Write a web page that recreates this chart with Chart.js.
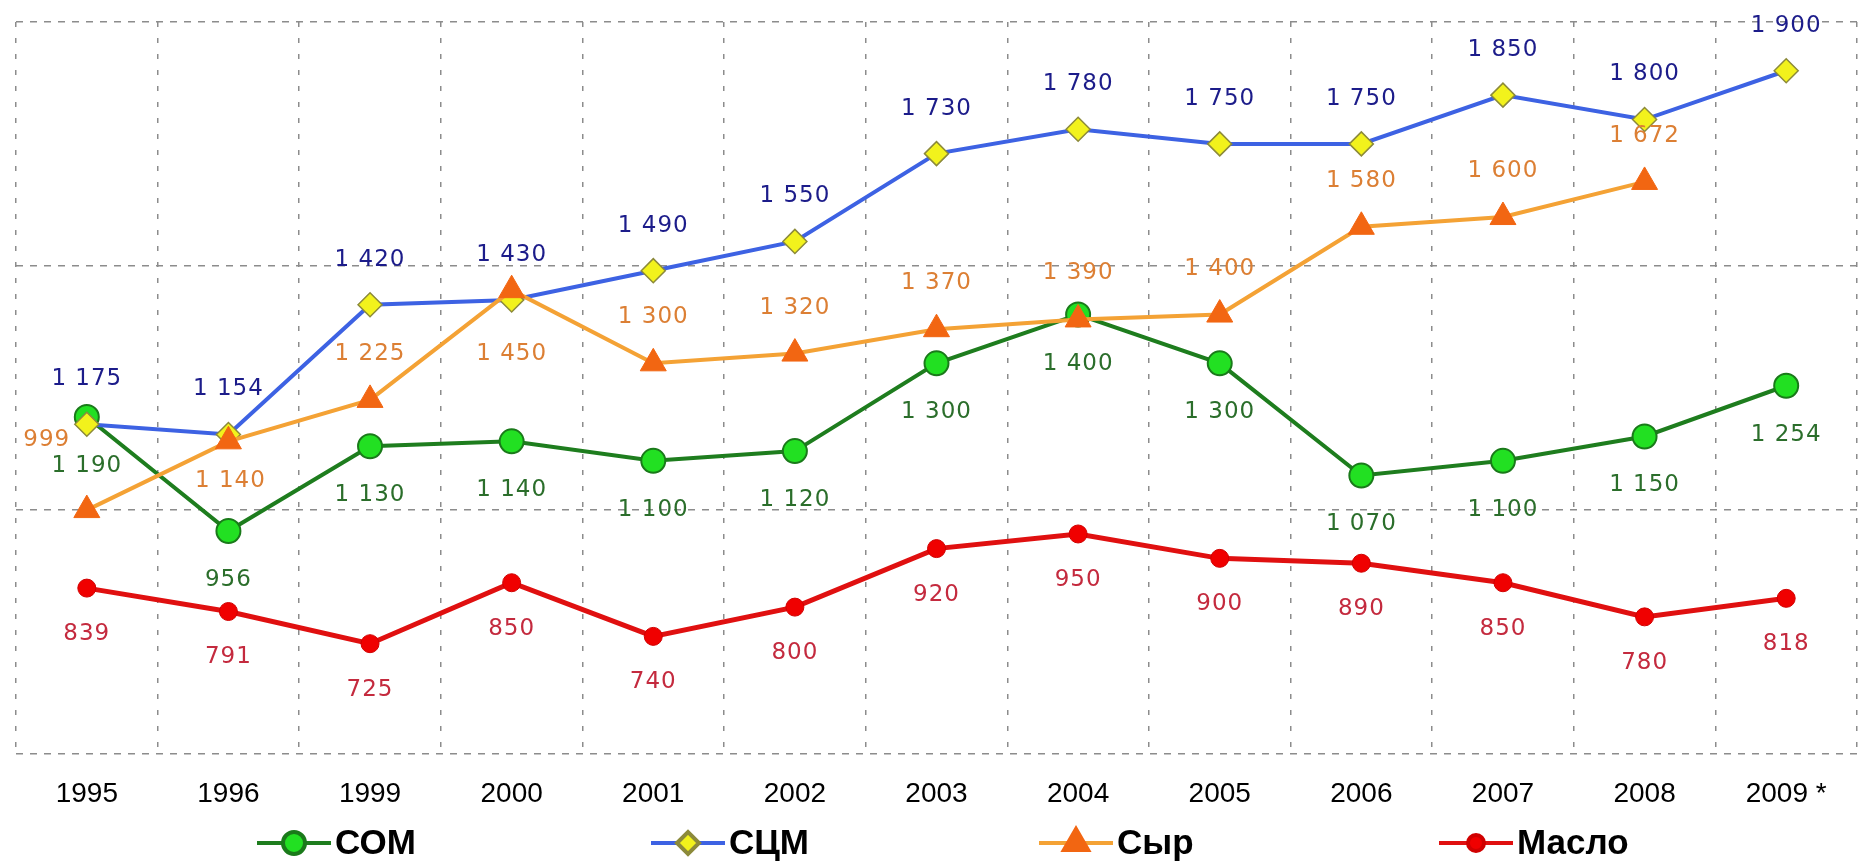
<!DOCTYPE html>
<html lang="ru">
<head>
<meta charset="utf-8">
<title>СОМ, СЦМ, Сыр, Масло</title>
<script src="https://cdn.jsdelivr.net/npm/chart.js@4.4.1/dist/chart.umd.min.js"></script>
<style>
  html, body { margin: 0; padding: 0; background: #fff; }
  #wrap { position: relative; width: 1873px; height: 862px; }
</style>
</head>
<body>
<div id="wrap"><canvas id="chart"></canvas></div>
<script>
// Годы по оси X
const years = ['1995', '1996', '1999', '2000', '2001', '2002', '2003', '2004', '2005', '2006', '2007', '2008', '2009 *'];

// Значения рядов (как подписаны на графике)
const som   = [1190, 956, 1130, 1140, 1100, 1120, 1300, 1400, 1300, 1070, 1100, 1150, 1254];
const scm   = [1175, 1154, 1420, 1430, 1490, 1550, 1730, 1780, 1750, 1750, 1850, 1800, 1900];
const syr   = [999, 1140, 1225, 1450, 1300, 1320, 1370, 1390, 1400, 1580, 1600, 1672, null];
const maslo = [839, 791, 725, 850, 740, 800, 920, 950, 900, 890, 850, 780, 818];

// Шкала Y: только сетка, без подписей
const yMin = 500;
const yMax = 2000;
const yStep = 500;

// "1 175" - разделитель тысяч пробелом
function fmt(v) {
  if (v < 1000) return String(v);
  return Math.floor(v / 1000) + ' ' + String(v % 1000).padStart(3, '0');
}

// Подписи значений возле точек
const valueLabels = {
  id: 'valueLabels',
  afterDatasetsDraw(chart) {
    const ctx = chart.ctx;
    ctx.save();
    ctx.font = '23px "DejaVu Sans"';
    ctx.letterSpacing = '1px';
    ctx.textAlign = 'center';
    ctx.textBaseline = 'middle';
    chart.data.datasets.forEach((ds, di) => {
      const meta = chart.getDatasetMeta(di);
      meta.data.forEach((pt, i) => {
        const v = ds.data[i];
        if (v == null) return;
        const shift = (ds.lblFix && ds.lblFix[i]) || [0, ds.lblDy];
        ctx.fillStyle = ds.lblColor;
        ctx.fillText(fmt(v), pt.x + shift[0], pt.y + shift[1]);
      });
    });
    ctx.restore();
  }
};

// Легенда внизу, нарисована вручную
const legendX = [335, 729, 1117, 1517];
const bottomLegend = {
  id: 'bottomLegend',
  afterDraw(chart) {
    const ctx = chart.ctx;
    const y = 843;
    ctx.save();
    chart.data.datasets.forEach((ds, i) => {
      const tx = legendX[i];
      const x0 = tx - 78;
      const x1 = tx - 4;
      ctx.strokeStyle = ds.borderColor;
      ctx.lineWidth = 4;
      ctx.beginPath();
      ctx.moveTo(x0, y);
      ctx.lineTo(x1, y);
      ctx.stroke();
      ctx.fillStyle = ds.pointBackgroundColor;
      ctx.strokeStyle = ds.pointBorderColor;
      Chart.helpers.drawPoint(ctx, {
        pointStyle: ds.pointStyle,
        radius: ds.pointRadius - 1,
        borderWidth: ds.pointBorderWidth,
        rotation: 0
      }, (x0 + x1) / 2, y);
      ctx.fillStyle = '#000';
      ctx.font = 'bold 35px "Liberation Sans"';
      ctx.textAlign = 'left';
      ctx.textBaseline = 'middle';
      ctx.fillText(ds.label, tx, y + 1);
    });
    ctx.restore();
  }
};

const ctx = document.getElementById('chart').getContext('2d');
const chart = new Chart(ctx, {
  type: 'line',
  data: {
    labels: years,
    datasets: [
      {
        label: 'СОМ',
        data: som,
        order: 2,
        borderColor: '#1e7d1e',
        borderWidth: 4,
        pointStyle: 'circle',
        pointRadius: 12,
        pointBackgroundColor: '#22e022',
        pointBorderColor: '#1a7a1a',
        pointBorderWidth: 2,
        lblColor: '#2b6e2b',
        lblDy: 49
      },
      {
        label: 'СЦМ',
        data: scm,
        order: 1,
        borderColor: '#3d62e3',
        borderWidth: 4,
        pointStyle: 'rectRot',
        pointRadius: 12,
        pointBackgroundColor: '#f2f21c',
        pointBorderColor: '#8c8a3a',
        pointBorderWidth: 1.5,
        lblColor: '#1c1c8a',
        lblDy: -45
      },
      {
        label: 'Сыр',
        data: syr,
        order: 0,
        borderColor: '#f4a235',
        borderWidth: 4,
        pointStyle: 'triangle',
        pointRadius: 15,
        pointBackgroundColor: '#f26612',
        pointBorderColor: '#f26612',
        pointBorderWidth: 1,
        lblColor: '#dc7f34',
        lblDy: -46,
        lblFix: { 0: [-40, -70], 1: [2, 40], 3: [0, 64] }
      },
      {
        label: 'Масло',
        data: maslo,
        order: 3,
        borderColor: '#e01010',
        borderWidth: 5,
        pointStyle: 'circle',
        pointRadius: 9,
        pointBackgroundColor: '#f00000',
        pointBorderColor: '#d00000',
        pointBorderWidth: 1,
        lblColor: '#c42a3e',
        lblDy: 46
      }
    ]
  },
  options: {
    responsive: true,
    maintainAspectRatio: false,
    animation: false,
    layout: { padding: { left: 13, right: 1, top: 22, bottom: 27 } },
    elements: { line: { tension: 0 } },
    plugins: {
      legend: { display: false },
      tooltip: { enabled: false }
    },
    scales: {
      x: {
        offset: true,
        grid: { offset: true, color: '#8c8c8c', lineWidth: 1.5, drawTicks: false },
        border: { display: false, dash: [5, 11] },
        ticks: {
          color: '#000',
          font: { family: '"Liberation Sans"', size: 28 },
          padding: 24,
          maxRotation: 0,
          autoSkip: false
        }
      },
      y: {
        min: yMin,
        max: yMax,
        ticks: { display: false, stepSize: yStep },
        grid: { color: '#8c8c8c', lineWidth: 1.5, drawTicks: false },
        border: { display: false, dash: [7, 7] }
      }
    }
  },
  plugins: [valueLabels, bottomLegend]
});
</script>
</body>
</html>
